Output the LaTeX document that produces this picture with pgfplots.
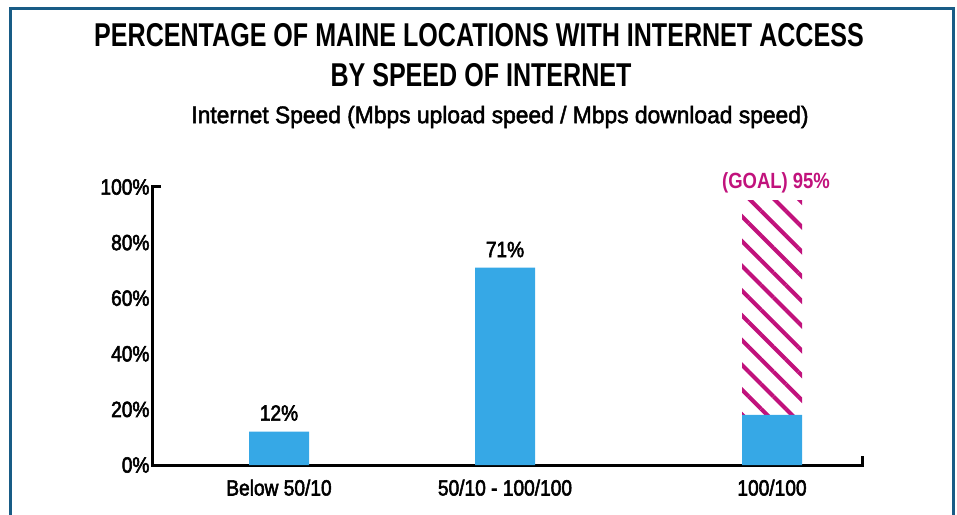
\documentclass[border=0pt]{standalone}
\usepackage{pgfplots}
\pgfplotsset{compat=1.18}
\usetikzlibrary{patterns.meta}
\usepackage{fontspec}
\setmainfont{Liberation Sans}
\newfontfamily\titlefont[FakeStretch=0.76]{Liberation Sans}
\newfontfamily\subfont[FakeStretch=0.95,FakeBold=2]{Liberation Sans}
\newfontfamily\labfont[FakeStretch=0.87,FakeBold=2.5]{Liberation Sans}
\newfontfamily\goalfont[FakeStretch=0.84]{Liberation Sans}
\definecolor{barblue}{RGB}{54,168,230}
\definecolor{goalmag}{RGB}{193,18,124}
\definecolor{framec}{RGB}{24,92,134}
\begin{document}
\begin{tikzpicture}[x=1pt,y=1pt]
\useasboundingbox (0,0) rectangle (957,514);
\clip (0,0) rectangle (957,514);
\draw[framec, line width=3.5pt] (10.5,-20) -- (10.5,505.5) -- (953.5,505.5) -- (953.5,-20);
\node[font=\titlefont\fontsize{33}{38}\selectfont\bfseries] at (479,479) {PERCENTAGE OF MAINE LOCATIONS WITH INTERNET ACCESS};
\node[font=\titlefont\fontsize{33}{38}\selectfont\bfseries] at (481,439) {BY SPEED OF INTERNET};
\node[font=\subfont\fontsize{24}{28}\selectfont] at (500,397) {Internet Speed (Mbps upload speed / Mbps download speed)};
\begin{axis}[
  at={(152pt,49pt)}, anchor=south west,
  scale only axis, width=710pt, height=278pt,
  xmin=152, xmax=862, ymin=0, ymax=100,
  clip=false,
  axis x line*=bottom, axis y line*=left,
  axis line style={draw=none},
  major tick style={draw=none},
  ytick={0,20,40,60,80,100},
  yticklabels={0\%,20\%,40\%,60\%,80\%,100\%},
  xtick={279,505,772},
  xticklabels={Below 50/10,50/10 - 100/100,100/100},
  ticklabel style={font=\labfont\fontsize{22}{26}\selectfont, text=black},
  xticklabel style={yshift=-11pt},
  yticklabel style={xshift=1pt},
  ybar stacked, bar width=60,
]
\addplot[fill=barblue, draw=none] coordinates {(279,12) (505,71) (772,18)};
\addplot[draw=none, pattern={Lines[angle=-45,distance=17.5pt,line width=4pt]}, pattern color=goalmag] coordinates {(279,0) (505,0) (772,77)};
\draw[line width=3pt, miter limit=10] (axis cs:161,100) -- (axis cs:152,100) -- (axis cs:152,0) -- (axis cs:862,0) -- (axis cs:862,3.2);
\node[font=\labfont\fontsize{22}{26}\selectfont] at (axis cs:279,18.7) {12\%};
\node[font=\labfont\fontsize{22}{26}\selectfont] at (axis cs:505,77.5) {71\%};
\node[font=\labfont\fontsize{22}{26}\selectfont, text=white] at (axis cs:772,11.9) {18\%};
\node[font=\goalfont\fontsize{22}{26}\selectfont\bfseries, text=goalmag] at (axis cs:776,101.5) {(GOAL) 95\%};
\end{axis}
\end{tikzpicture}
\end{document}
